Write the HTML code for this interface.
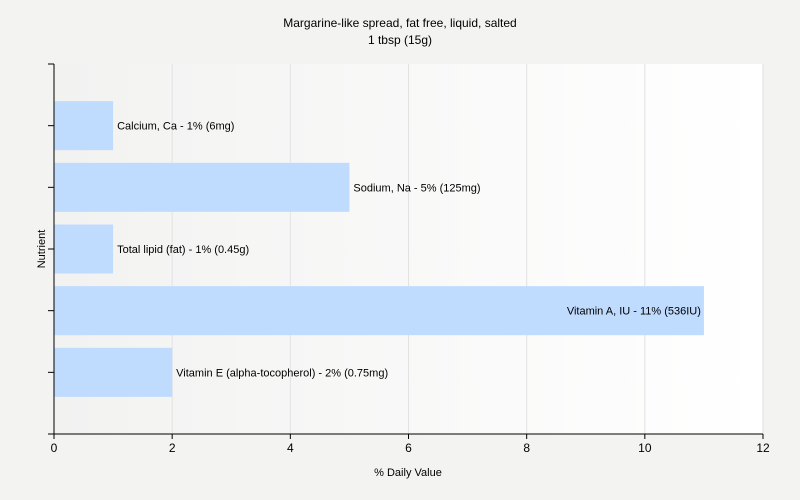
<!DOCTYPE html>
<html><head><meta charset="utf-8"><style>
body{margin:0;background:#f3f3f2;}
svg{display:block;font-family:"Liberation Sans",sans-serif;}
</style></head><body>
<svg id="c" width="800" height="500">
<defs><linearGradient id="bg" x1="0" x2="1" y1="0" y2="0"><stop offset="0" stop-color="#f2f2f1"/><stop offset="1" stop-color="#ffffff"/></linearGradient></defs>
<text x="400" y="27" text-anchor="middle" font-size="12" fill="#000">Margarine-like spread, fat free, liquid, salted</text>
<text x="400" y="44" text-anchor="middle" font-size="12" fill="#000">1 tbsp (15g)</text>
<rect x="54" y="64" width="709" height="370" fill="url(#bg)"/>
<g id="grid"></g><g id="bars"></g><g id="axes"></g>
<text x="408" y="476" text-anchor="middle" font-size="11">% Daily Value</text>
<text transform="translate(45,249) rotate(-90)" text-anchor="middle" font-size="11">Nutrient</text>
</svg>
<script>
const categories=["Calcium, Ca","Sodium, Na","Total lipid (fat)","Vitamin A, IU","Vitamin E (alpha-tocopherol)"];
const values=[1,5,1,11,2];
const labels=["Calcium, Ca - 1% (6mg)","Sodium, Na - 5% (125mg)","Total lipid (fat) - 1% (0.45g)","Vitamin A, IU - 11% (536IU)","Vitamin E (alpha-tocopherol) - 2% (0.75mg)"];
const xTicks=[0,2,4,6,8,10,12];
const NS="http://www.w3.org/2000/svg";
const x0=54,x1=763,y0=64,y1=434,xMax=12;
const xs=v=>x0+(x1-x0)*v/xMax;
const band=(y1-y0)/(categories.length+1);
const yc=i=>y0+band*(i+1);
function mk(t,a,p){const e=document.createElementNS(NS,t);for(const k in a)e.setAttribute(k,a[k]);p.appendChild(e);return e;}
const grid=document.getElementById('grid'),bars=document.getElementById('bars'),axes=document.getElementById('axes');
xTicks.forEach(t=>{
 if(t>0){const g=mk('line',{x1:xs(t),x2:xs(t),y1:y0,y2:y1,stroke:'#e2e2e2'},grid);
 
 }
 const tk=mk('line',{x1:xs(t),x2:xs(t),y1:y1,y2:y1+5,stroke:'#000'},axes);
 
 
 const tl=mk('text',{x:xs(t),y:y1+18,'text-anchor':'middle','font-size':12},axes);
 tl.textContent=t;
 
 
});
categories.forEach((c,i)=>{
 const h=49,w=xs(values[i])-x0;
 const r=mk('rect',{x:x0,y:yc(i)-h/2,width:w,height:h,fill:'#bfdbfe'},bars);
 
 
 const inside=values[i]>=10;
 const t=mk('text',{x:inside?xs(values[i])-3:xs(values[i])+4,y:yc(i)+4,'text-anchor':inside?'end':'start','font-size':11},bars);
 t.textContent=labels[i];
 
 
 const tk=mk('line',{x1:x0-6,x2:x0,y1:yc(i),y2:yc(i),stroke:'#000'},axes);
 
 
});
[y0,y1].forEach(y=>{const e=mk('line',{x1:x0-6,x2:x0,y1:y,y2:y,stroke:'#000'},axes);
 
 });
const ya=mk('line',{x1:x0,x2:x0,y1:y0,y2:y1,stroke:'#000'},axes);


const xa=mk('line',{x1:x0,x2:x1,y1:y1,y2:y1,stroke:'#000'},axes);


</script>
</body></html>
